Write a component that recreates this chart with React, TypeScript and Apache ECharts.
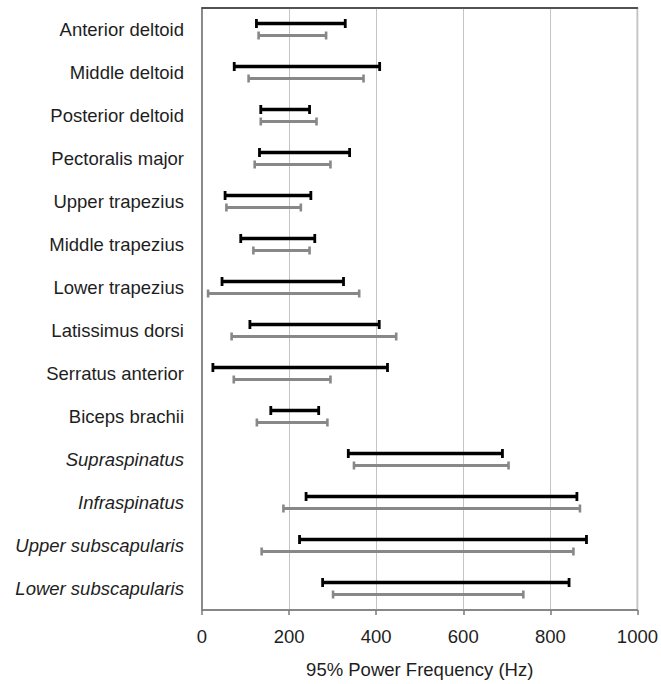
import React, { useEffect, useRef } from "react";
import * as echarts from "echarts";

const categories = [
  "Anterior deltoid",
  "Middle deltoid",
  "Posterior deltoid",
  "Pectoralis major",
  "Upper trapezius",
  "Middle trapezius",
  "Lower trapezius",
  "Latissimus dorsi",
  "Serratus anterior",
  "Biceps brachii",
  "Supraspinatus",
  "Infraspinatus",
  "Upper subscapularis",
  "Lower subscapularis",
];
const italicCategories = ["Supraspinatus", "Infraspinatus", "Upper subscapularis", "Lower subscapularis"];

const blackLow = [125, 74, 135, 132, 53, 89, 46, 110, 25, 158, 336, 239, 224, 277];
const blackHigh = [329, 408, 247, 339, 250, 259, 325, 407, 426, 268, 690, 861, 883, 843];
const grayLow = [130, 107, 135, 121, 56, 118, 14, 68, 73, 126, 349, 187, 137, 301];
const grayHigh = [285, 371, 263, 295, 227, 247, 361, 446, 295, 288, 704, 868, 853, 738];

const xTicks = [0, 200, 400, 600, 800, 1000];

const FONT = "'Liberation Sans', Arial, Helvetica, sans-serif";
const TEXT = "#1e1e1e";

function makeRender(offset: number, color: string, lineW: number, capH: number, capW: number) {
  return (params: any, api: any) => {
    const idx = api.value(2);
    const p1 = api.coord([api.value(0), idx]);
    const p2 = api.coord([api.value(1), idx]);
    const y = p1[1] + offset;
    return {
      type: "group",
      children: [
        {
          type: "line",
          shape: { x1: p1[0], y1: y, x2: p2[0], y2: y },
          style: { stroke: color, lineWidth: lineW },
        },
        {
          type: "line",
          shape: { x1: p1[0], y1: y - capH / 2, x2: p1[0], y2: y + capH / 2 },
          style: { stroke: color, lineWidth: capW },
        },
        {
          type: "line",
          shape: { x1: p2[0], y1: y - capH / 2, x2: p2[0], y2: y + capH / 2 },
          style: { stroke: color, lineWidth: capW },
        },
      ],
    };
  };
}

export default function App() {
  const ref = useRef<HTMLDivElement>(null);
  useEffect(() => {
    if (!ref.current) return;
    const chart = echarts.init(ref.current, undefined, { renderer: "svg" });
    const blackData = categories.map((_, i) => [blackLow[i], blackHigh[i], i]);
    const grayData = categories.map((_, i) => [grayLow[i], grayHigh[i], i]);
    chart.setOption({
      animation: false,
      backgroundColor: "#ffffff",
      grid: {
        left: 202,
        right: 21,
        top: 8,
        bottom: 71,
        show: true,
        borderColor: "#999999",
        borderWidth: 1.5,
      },
      xAxis: [
        {
          type: "value",
          min: 0,
          max: 1000,
          interval: 200,
          name: "95% Power Frequency (Hz)",
          nameLocation: "middle",
          nameGap: 50,
          nameTextStyle: { fontFamily: FONT, fontSize: 18.5, color: TEXT },
          axisLine: { show: true, lineStyle: { color: "#7a7a7a", width: 1.5 } },
          axisTick: { show: true, length: 5, lineStyle: { color: "#7a7a7a", width: 1.5 } },
          axisLabel: {
            margin: 17,
            fontFamily: FONT,
            fontSize: 18.5,
            color: TEXT,
            formatter: (v: number) => (xTicks.indexOf(v) >= 0 ? String(v) : ""),
          },
          splitLine: { show: true, lineStyle: { color: "#c4c4c4", width: 1 } },
        },
        {
          type: "value",
          position: "top",
          min: 0,
          max: 1000,
          interval: 200,
          axisLine: { show: true, lineStyle: { color: "#333333", width: 1.5 } },
          axisTick: { show: false },
          axisLabel: { show: false },
          splitLine: { show: false },
        },
      ],
      yAxis: {
        type: "category",
        data: categories,
        inverse: true,
        axisLine: { show: true, lineStyle: { color: "#7a7a7a", width: 1.5 } },
        axisTick: { show: false },
        splitLine: { show: false },
        axisLabel: {
          margin: 18,
          fontFamily: FONT,
          fontSize: 18.5,
          color: TEXT,
          formatter: (v: string) => (italicCategories.indexOf(v) >= 0 ? "{i|" + v + "}" : "{n|" + v + "}"),
          rich: {
            n: { fontFamily: FONT, fontSize: 18.5, color: TEXT },
            i: { fontFamily: FONT, fontSize: 18.5, color: TEXT, fontStyle: "italic" },
          },
        },
      },
      series: [
        {
          type: "custom",
          name: "black",
          clip: false,
          xAxisIndex: 0,
          renderItem: makeRender(-6, "#000000", 3.5, 9, 2.8),
          encode: { x: [0, 1], y: 2 },
          data: blackData,
          z: 3,
        },
        {
          type: "custom",
          name: "gray",
          clip: false,
          xAxisIndex: 0,
          renderItem: makeRender(6, "#888888", 3, 8, 2.6),
          encode: { x: [0, 1], y: 2 },
          data: grayData,
          z: 2,
        },
      ],
    });
    return () => chart.dispose();
  }, []);
  return (
    <div
      ref={ref}
      style={{ position: "fixed", left: 0, top: 0, width: 661, height: 684, background: "#fff" }}
    />
  );
}
